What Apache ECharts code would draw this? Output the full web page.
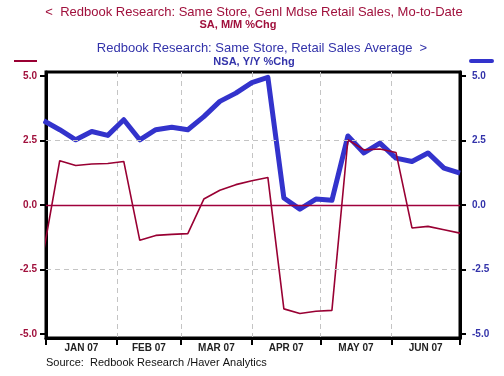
<!DOCTYPE html>
<html>
<head>
<meta charset="utf-8">
<script src="https://cdn.jsdelivr.net/npm/echarts@6/dist/echarts.min.js"></script>
<style>
html, body { margin: 0; padding: 0; background: #fff; }
#chart { width: 504px; height: 376px; }
</style>
</head>
<body>
<div id="chart"></div>
<script>
// weekly readings, Dec 31 2006 .. Jul 1 2007
const weeks = ['2006-12-31', '2007-01-07', '2007-01-14', '2007-01-21', '2007-01-28',
  '2007-02-04', '2007-02-11', '2007-02-18', '2007-02-25',
  '2007-03-04', '2007-03-11', '2007-03-18', '2007-03-25',
  '2007-04-01', '2007-04-08', '2007-04-15', '2007-04-22', '2007-04-29',
  '2007-05-06', '2007-05-13', '2007-05-20', '2007-05-27',
  '2007-06-03', '2007-06-10', '2007-06-17', '2007-06-24', '2007-07-01']
// Genl Mdse Retail Sales, Mo-to-Date, SA M/M %Chg (left)
const mdseMoM = [-1.78, 1.72, 1.53, 1.59, 1.61,
  1.69, -1.37, -1.18, -1.14,
  -1.11, 0.23, 0.57, 0.79,
  0.94, 1.07, -4.03, -4.21, -4.12,
  -4.09, 2.53, 2.14, 2.17,
  2.04, -0.89, -0.83, -0.96, -1.09]
// Retail Sales Average, NSA Y/Y %Chg (right)
const salesYoY = [3.27, 2.92, 2.53, 2.85, 2.70,
  3.31, 2.53, 2.92, 3.02,
  2.92, 3.43, 4.02, 4.34,
  4.75, 4.95, 0.27, -0.16, 0.23,
  0.18, 2.68, 2.02, 2.40,
  1.82, 1.69, 2.02, 1.43, 1.24]
const monthStarts = ['2007-01-01', '2007-02-01', '2007-03-01', '2007-04-01', '2007-05-01', '2007-06-01', '2007-07-01']
const monthLabels = ['JAN 07', 'FEB 07', 'MAR 07', 'APR 07', 'MAY 07', 'JUN 07']
const yTicks = [-5, -2.5, 0, 2.5, 5]
const gridLevels = [2.5, -2.5]

const RED = '#990033'
const BLUE = '#3333cc'
const FONT = 'Liberation Sans, Arial, sans-serif'

// days since Jan 1 2007 (x is a plain value axis in days)
function toDay (s) {
  const p = s.split('-')
  return Math.round((Date.UTC(+p[0], +p[1] - 1, +p[2]) - Date.UTC(2007, 0, 1)) / 86400000)
}

const startDays = monthStarts.map(toDay)
// label in the middle of each month
const midDays = monthLabels.map((m, i) => (startDays[i] + startDays[i + 1]) / 2)

const chart = echarts.init(document.getElementById('chart'))

function titleText (text, x, y, color, size, weight) {
  return {
    text: text,
    left: x,
    top: y,
    padding: 0,
    textAlign: 'center',
    textStyle: { color: color, fontSize: size, fontWeight: weight, fontFamily: FONT }
  }
}

const option = {
  animation: false,
  backgroundColor: '#fff',
  textStyle: { fontFamily: FONT },
  title: [
    titleText('<  Redbook Research: Same Store, Genl Mdse Retail Sales, Mo-to-Date', 254, 6, '#a0103c', 13, 'normal'),
    titleText('SA, M/M %Chg', 238, 19, '#a0103c', 11, 'bold'),
    titleText('Redbook Research: Same Store, Retail Sales Average  >', 262, 42, '#3333aa', 13, 'normal'),
    titleText('NSA, Y/Y %Chg', 254, 56, '#3333aa', 11, 'bold'),
    {
      text: 'Source:  Redbook Research /Haver Analytics',
      left: 46,
      top: 357,
      padding: 0,
      textStyle: { color: '#111', fontSize: 11, fontWeight: 'normal', fontFamily: FONT }
    }
  ],
  graphic: [
    { type: 'line', shape: { x1: 14, y1: 61, x2: 37, y2: 61 }, style: { stroke: RED, lineWidth: 2 } },
    { type: 'line', shape: { x1: 471, y1: 61, x2: 492, y2: 61 }, style: { stroke: BLUE, lineWidth: 4, lineCap: 'round' } }
  ],
  grid: {
    left: 46,
    right: 44,
    top: 72,
    bottom: 38,
    show: true,
    borderColor: '#000',
    borderWidth: 3
  },
  xAxis: {
    type: 'value',
    min: startDays[0],
    max: startDays[startDays.length - 1],
    axisLine: { onZero: false, lineStyle: { color: '#000', width: 3 } },
    axisTick: {
      customValues: startDays,
      length: 7,
      lineStyle: { color: '#000', width: 2 }
    },
    axisLabel: {
      customValues: midDays,
      margin: 5,
      color: '#222',
      fontSize: 10,
      fontWeight: 'bold',
      fontFamily: FONT,
      formatter: function (v) {
        let best = 0
        midDays.forEach((t, i) => { if (Math.abs(t - v) < Math.abs(midDays[best] - v)) best = i })
        return monthLabels[best]
      }
    },
    splitLine: { show: true, lineStyle: { color: '#c4c4c4', type: [5, 4], width: 1 } }
  },
  yAxis: [
    {
      type: 'value',
      position: 'left',
      min: -5.16,
      max: 5.16,
      axisLine: { show: true, onZero: false, lineStyle: { color: '#000', width: 3 } },
      axisTick: { show: true, customValues: yTicks, length: 6, lineStyle: { color: '#000', width: 2 } },
      axisLabel: {
        customValues: yTicks,
        margin: 9,
        color: '#a0103c',
        fontSize: 10,
        fontWeight: 'bold',
        fontFamily: FONT,
        formatter: v => v.toFixed(1)
      },
      splitLine: { show: false }
    },
    {
      type: 'value',
      position: 'right',
      min: -5.16,
      max: 5.16,
      axisLine: { show: true, onZero: false, lineStyle: { color: '#000', width: 3 } },
      axisTick: { show: true, customValues: yTicks, length: 6, lineStyle: { color: '#000', width: 2 } },
      axisLabel: {
        customValues: yTicks,
        margin: 12,
        color: '#3333aa',
        fontSize: 10,
        fontWeight: 'bold',
        fontFamily: FONT,
        formatter: v => v.toFixed(1)
      },
      splitLine: { show: false }
    }
  ],
  series: [
    {
      name: 'Retail Sales Average',
      type: 'line',
      yAxisIndex: 1,
      symbol: 'none',
      lineStyle: { color: BLUE, width: 5, join: 'round' },
      data: weeks.map((d, i) => [toDay(d), salesYoY[i]]),
      markLine: {
        silent: true,
        symbol: 'none',
        label: { show: false },
        lineStyle: { color: '#c4c4c4', type: [5, 4], width: 1 },
        data: gridLevels.map(v => ({ yAxis: v }))
      },
      z: 2
    },
    {
      name: 'Genl Mdse Retail Sales',
      type: 'line',
      yAxisIndex: 0,
      symbol: 'none',
      lineStyle: { color: RED, width: 1.6 },
      data: weeks.map((d, i) => [toDay(d), mdseMoM[i]]),
      markLine: {
        silent: true,
        symbol: 'none',
        label: { show: false },
        lineStyle: { color: '#a0003c', type: 'solid', width: 1.3 },
        data: [{ yAxis: 0 }]
      },
      z: 3
    }
  ]
}

chart.setOption(option)
</script>
</body>
</html>
